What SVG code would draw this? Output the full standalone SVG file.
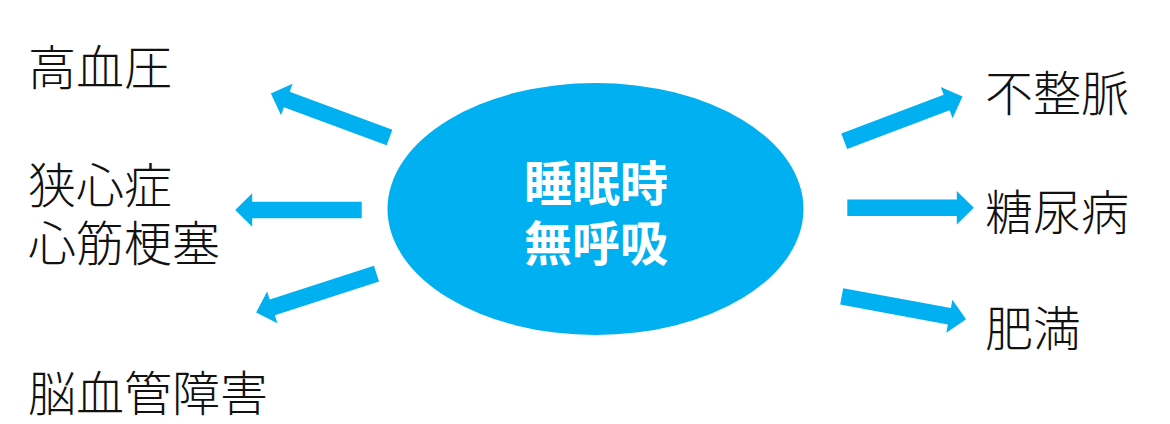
<svg xmlns="http://www.w3.org/2000/svg" xmlns:xlink="http://www.w3.org/1999/xlink" width="1170" height="424" viewBox="0 0 1170 424">
<style>
.lbl{font-family:"Noto Sans CJK JP","Noto Sans CJK SC",sans-serif;font-size:48px;font-weight:300;fill:#111}
.ctr{font-family:"Noto Sans CJK JP","Noto Sans CJK SC",sans-serif;font-size:48px;font-weight:700;fill:#fff;text-anchor:middle}
.arr{fill:#00B0F0}
</style>
<defs>
<path id="arrow" d="M0,-8.3 H109.5 V-16.7 L126.5,0 L109.5,16.7 V8.3 H0 Z"/>
</defs>
<rect width="1170" height="424" fill="#fff"/>
<g id="connectors" class="arr">
<use href="#arrow" xlink:href="#arrow" transform="translate(389.5,137.5) rotate(200.3)"/>
<use href="#arrow" xlink:href="#arrow" transform="translate(361.7,210) rotate(180)"/>
<use href="#arrow" xlink:href="#arrow" transform="translate(376.5,273.7) rotate(162.1)"/>
<use href="#arrow" xlink:href="#arrow" transform="translate(844.2,141.3) rotate(-20.7)"/>
<use href="#arrow" xlink:href="#arrow" transform="translate(847.3,207.7)"/>
<use href="#arrow" xlink:href="#arrow" transform="translate(841.7,296.3) rotate(10.5)"/>
</g>
<g id="center">
<ellipse cx="595.5" cy="209" rx="208" ry="126" fill="#00B0F0"/>
<text class="ctr" x="596" y="201">睡眠時</text>
<text class="ctr" x="596" y="261">無呼吸</text>
</g>
<g id="hypertension"><text class="lbl" x="28" y="85">高血圧</text></g>
<g id="angina"><text class="lbl" x="28" y="203">狭心症</text><text class="lbl" x="28" y="261">心筋梗塞</text></g>
<g id="stroke"><text class="lbl" x="28" y="411">脳血管障害</text></g>
<g id="arrhythmia"><text class="lbl" x="985" y="111">不整脈</text></g>
<g id="diabetes"><text class="lbl" x="985" y="230">糖尿病</text></g>
<g id="obesity"><text class="lbl" x="985" y="346">肥満</text></g>
</svg>
